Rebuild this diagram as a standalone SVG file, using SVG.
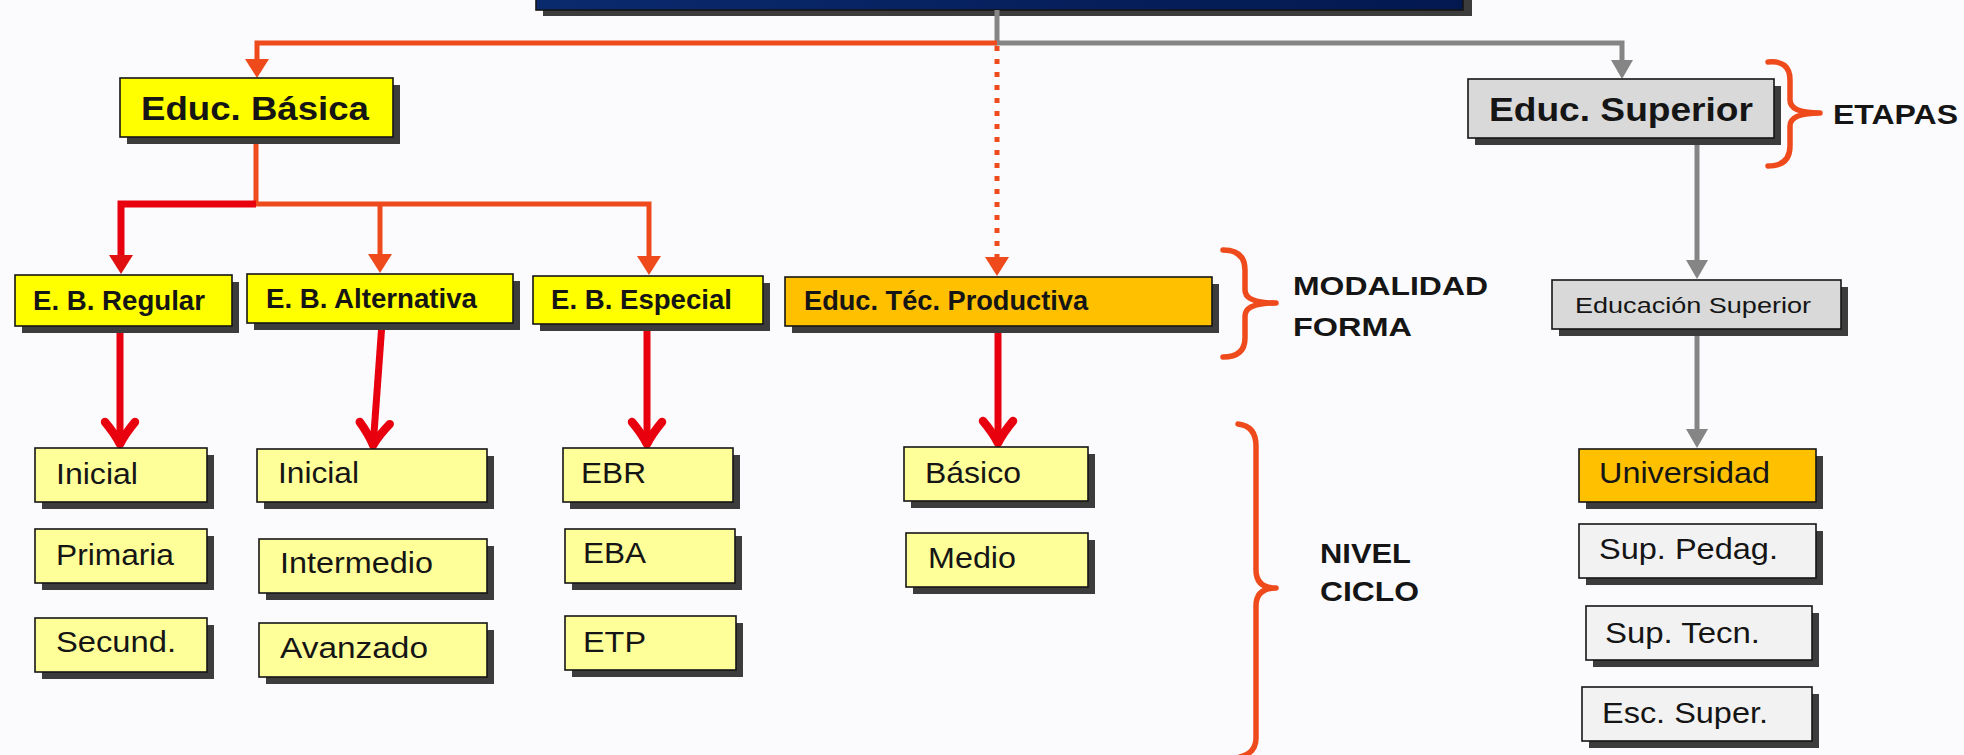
<svg xmlns="http://www.w3.org/2000/svg" width="1964" height="755" viewBox="0 0 1964 755">
<style>
.t{font-family:"Liberation Sans",Arial,sans-serif;fill:#151515}
.b{font-weight:bold}
.sh{fill:#3c3c3c}
.bx{stroke:#151515;stroke-width:1.6}
.y1{fill:#ffff00}
.y2{fill:#ffff99}
.or{fill:#ffc000}
.g1{fill:#d9d9d9}
.g2{fill:#f2f2f2}
.co{fill:none;stroke:#ef4a1c;stroke-width:5}
.cr{fill:none;stroke:#e8000e;stroke-width:7}
.cg{fill:none;stroke:#858585;stroke-width:5}
.br{fill:none;stroke:#ef4a1c;stroke-width:5.5;stroke-linecap:round;stroke-linejoin:round}
</style>
<defs>
<marker id="tO" markerUnits="userSpaceOnUse" markerWidth="24" markerHeight="26" refX="2" refY="12" orient="auto" overflow="visible"><path d="M0,0 L19,12 L0,24 z" fill="#ef4a1c"/></marker>
<marker id="tR" markerUnits="userSpaceOnUse" markerWidth="24" markerHeight="26" refX="2" refY="12" orient="auto" overflow="visible"><path d="M0,0 L19,12 L0,24 z" fill="#e01010"/></marker>
<marker id="tG" markerUnits="userSpaceOnUse" markerWidth="24" markerHeight="26" refX="2" refY="11" orient="auto" overflow="visible"><path d="M0,0 L19,11 L0,22 z" fill="#858585"/></marker>
<marker id="vR" markerUnits="userSpaceOnUse" markerWidth="40" markerHeight="40" refX="0" refY="0" orient="auto" overflow="visible"><path d="M-24,-15 Q-12,-5 -2,0 Q-12,5 -24,15" fill="none" stroke="#e8000e" stroke-width="8.5" stroke-linecap="round" stroke-linejoin="round"/></marker>
<linearGradient id="nv" x1="0" y1="0" x2="1" y2="0"><stop offset="0" stop-color="#0a2a6e"/><stop offset="1" stop-color="#03184f"/></linearGradient>
</defs>
<rect width="1964" height="755" fill="#fbfbfd"/>

<g id="top">
<rect class="sh" x="543" y="-23" width="929" height="39"/>
<rect x="536" y="-30" width="927" height="40" fill="url(#nv)" stroke="#151515" stroke-width="1.6"/>
</g>

<g id="connectors">
<path class="cg" d="M997,10 L997,43 L1622,43 L1622,62" marker-end="url(#tG)"/>
<path class="co" d="M997,43 L257,43 L257,61" marker-end="url(#tO)"/>
<path class="co" d="M997,46 L997,259" stroke-dasharray="5 8" marker-end="url(#tO)"/>
<path class="co" stroke-width="7" d="M256,137 L256,204 L649,204 L649,258" marker-end="url(#tO)"/>
<path class="co" stroke-width="7" d="M380,204 L380,256" marker-end="url(#tO)"/>
<path class="cr" stroke="#dd1111" d="M256,204 L121,204 L121,257" marker-end="url(#tR)"/>
<path class="cg" stroke-width="7" d="M1697,138 L1697,262" marker-end="url(#tG)"/>
<path class="cg" stroke-width="7" d="M1697,329 L1697,431" marker-end="url(#tG)"/>
<path class="cr" d="M120,327 L120,446" marker-end="url(#vR)"/>
<path class="cr" d="M382,323 L373,447" marker-end="url(#vR)"/>
<path class="cr" d="M647,324 L647,446" marker-end="url(#vR)"/>
<path class="cr" d="M998,326 L998,445" marker-end="url(#vR)"/>
</g>

<g id="educ-basica">
<rect class="sh" x="127" y="85" width="273" height="59"/>
<rect class="bx y1" x="120" y="78" width="273" height="59"/>
<text class="t b" x="141" y="120" font-size="33" textLength="228" lengthAdjust="spacingAndGlyphs">Educ. Básica</text>
</g>
<g id="educ-superior">
<rect class="sh" x="1475" y="86" width="306" height="59"/>
<rect class="bx g1" x="1468" y="79" width="306" height="59"/>
<text class="t b" x="1489" y="121" font-size="33" textLength="264" lengthAdjust="spacingAndGlyphs">Educ. Superior</text>
</g>

<g id="eb-regular">
<rect class="sh" x="22" y="282" width="217" height="51"/>
<rect class="bx y1" x="15" y="275" width="217" height="51"/>
<text class="t b" x="33" y="310" font-size="27" textLength="172" lengthAdjust="spacingAndGlyphs">E. B. Regular</text>
</g>
<g id="eb-alternativa">
<rect class="sh" x="254" y="281" width="266" height="49"/>
<rect class="bx y1" x="247" y="274" width="266" height="49"/>
<text class="t b" x="266" y="308" font-size="27" textLength="211" lengthAdjust="spacingAndGlyphs">E. B. Alternativa</text>
</g>
<g id="eb-especial">
<rect class="sh" x="540" y="283" width="230" height="48"/>
<rect class="bx y1" x="533" y="276" width="230" height="48"/>
<text class="t b" x="551" y="309" font-size="27" textLength="181" lengthAdjust="spacingAndGlyphs">E. B. Especial</text>
</g>
<g id="educ-tec-productiva">
<rect class="sh" x="792" y="284" width="427" height="49"/>
<rect class="bx or" x="785" y="277" width="427" height="49"/>
<text class="t b" x="804" y="310" font-size="27" textLength="284" lengthAdjust="spacingAndGlyphs">Educ. Téc. Productiva</text>
</g>
<g id="educacion-superior">
<rect class="sh" x="1559" y="287" width="289" height="49"/>
<rect class="bx g1" x="1552" y="280" width="289" height="49"/>
<text class="t" x="1575" y="313" font-size="22" textLength="236" lengthAdjust="spacingAndGlyphs">Educación Superior</text>
</g>

<g id="reg-inicial">
<rect class="sh" x="42" y="455" width="172" height="54"/>
<rect class="bx y2" x="35" y="448" width="172" height="54"/>
<text class="t" x="56" y="484" font-size="29" textLength="82" lengthAdjust="spacingAndGlyphs">Inicial</text>
</g>
<g id="reg-primaria">
<rect class="sh" x="42" y="536" width="172" height="54"/>
<rect class="bx y2" x="35" y="529" width="172" height="54"/>
<text class="t" x="56" y="565" font-size="29" textLength="118" lengthAdjust="spacingAndGlyphs">Primaria</text>
</g>
<g id="reg-secund">
<rect class="sh" x="42" y="625" width="172" height="54"/>
<rect class="bx y2" x="35" y="618" width="172" height="54"/>
<text class="t" x="56" y="652" font-size="29" textLength="120" lengthAdjust="spacingAndGlyphs">Secund.</text>
</g>

<g id="alt-inicial">
<rect class="sh" x="264" y="456" width="230" height="53"/>
<rect class="bx y2" x="257" y="449" width="230" height="53"/>
<text class="t" x="278" y="483" font-size="29" textLength="81" lengthAdjust="spacingAndGlyphs">Inicial</text>
</g>
<g id="alt-intermedio">
<rect class="sh" x="266" y="546" width="228" height="54"/>
<rect class="bx y2" x="259" y="539" width="228" height="54"/>
<text class="t" x="280" y="573" font-size="29" textLength="153" lengthAdjust="spacingAndGlyphs">Intermedio</text>
</g>
<g id="alt-avanzado">
<rect class="sh" x="266" y="630" width="228" height="54"/>
<rect class="bx y2" x="259" y="623" width="228" height="54"/>
<text class="t" x="280" y="658" font-size="29" textLength="148" lengthAdjust="spacingAndGlyphs">Avanzado</text>
</g>

<g id="esp-ebr">
<rect class="sh" x="570" y="455" width="170" height="54"/>
<rect class="bx y2" x="563" y="448" width="170" height="54"/>
<text class="t" x="581" y="483" font-size="29" textLength="65" lengthAdjust="spacingAndGlyphs">EBR</text>
</g>
<g id="esp-eba">
<rect class="sh" x="572" y="536" width="170" height="54"/>
<rect class="bx y2" x="565" y="529" width="170" height="54"/>
<text class="t" x="583" y="563" font-size="29" textLength="63" lengthAdjust="spacingAndGlyphs">EBA</text>
</g>
<g id="esp-etp">
<rect class="sh" x="572" y="623" width="171" height="54"/>
<rect class="bx y2" x="565" y="616" width="171" height="54"/>
<text class="t" x="583" y="652" font-size="29" textLength="63" lengthAdjust="spacingAndGlyphs">ETP</text>
</g>

<g id="tec-basico">
<rect class="sh" x="911" y="454" width="184" height="54"/>
<rect class="bx y2" x="904" y="447" width="184" height="54"/>
<text class="t" x="925" y="483" font-size="29" textLength="96" lengthAdjust="spacingAndGlyphs">Básico</text>
</g>
<g id="tec-medio">
<rect class="sh" x="913" y="540" width="182" height="54"/>
<rect class="bx y2" x="906" y="533" width="182" height="54"/>
<text class="t" x="928" y="568" font-size="29" textLength="88" lengthAdjust="spacingAndGlyphs">Medio</text>
</g>

<g id="sup-universidad">
<rect class="sh" x="1586" y="456" width="237" height="53"/>
<rect class="bx or" x="1579" y="449" width="237" height="53"/>
<text class="t" x="1599" y="483" font-size="29" textLength="171" lengthAdjust="spacingAndGlyphs">Universidad</text>
</g>
<g id="sup-pedag">
<rect class="sh" x="1586" y="531" width="237" height="54"/>
<rect class="bx g2" x="1579" y="524" width="237" height="54"/>
<text class="t" x="1599" y="559" font-size="29" textLength="179" lengthAdjust="spacingAndGlyphs">Sup. Pedag.</text>
</g>
<g id="sup-tecn">
<rect class="sh" x="1593" y="613" width="226" height="54"/>
<rect class="bx g2" x="1586" y="606" width="226" height="54"/>
<text class="t" x="1605" y="643" font-size="29" textLength="155" lengthAdjust="spacingAndGlyphs">Sup. Tecn.</text>
</g>
<g id="sup-esc">
<rect class="sh" x="1589" y="694" width="230" height="54"/>
<rect class="bx g2" x="1582" y="687" width="230" height="54"/>
<text class="t" x="1602" y="723" font-size="29" textLength="166" lengthAdjust="spacingAndGlyphs">Esc. Super.</text>
</g>

<g id="label-etapas">
<path class="br" d="M1768,62 Q1790,60 1790,80 L1790,100 Q1790,113 1820,113 Q1790,113 1790,126 L1790,146 Q1790,166 1768,166"/>
<text class="t b" x="1833" y="124" font-size="28" textLength="125" lengthAdjust="spacingAndGlyphs">ETAPAS</text>
</g>
<g id="label-modalidad">
<path class="br" d="M1223,250 Q1245,250 1245,270 L1245,290 Q1245,303 1276,303 Q1245,303 1245,316 L1245,338 Q1245,357 1223,357"/>
<text class="t b" x="1293" y="295" font-size="26" textLength="195" lengthAdjust="spacingAndGlyphs">MODALIDAD</text>
<text class="t b" x="1293" y="336" font-size="26" textLength="119" lengthAdjust="spacingAndGlyphs">FORMA</text>
</g>
<g id="label-nivel">
<path class="br" d="M1238,424 Q1256,426 1256,446 L1256,570 Q1256,588 1276,588 Q1256,588 1256,606 L1256,738 Q1256,753 1240,757"/>
<text class="t b" x="1320" y="563" font-size="27" textLength="91" lengthAdjust="spacingAndGlyphs">NIVEL</text>
<text class="t b" x="1320" y="601" font-size="27" textLength="99" lengthAdjust="spacingAndGlyphs">CICLO</text>
</g>
</svg>
